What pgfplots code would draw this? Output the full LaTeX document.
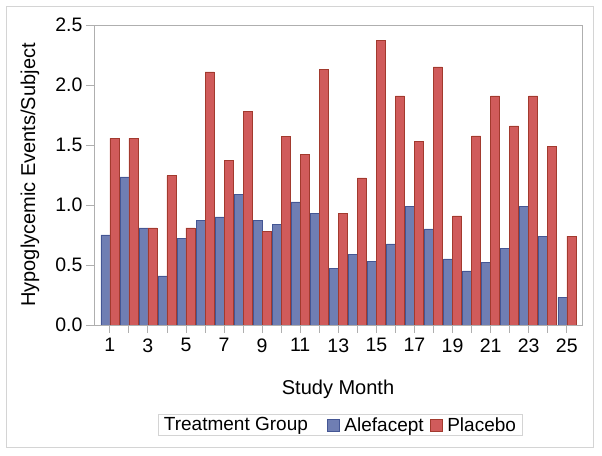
\documentclass[border=0pt]{standalone}
\usepackage{pgfplots}
\pgfplotsset{compat=1.18}
\usepackage{fontspec}
\setmainfont{Liberation Sans}
\definecolor{alef}{RGB}{111,126,179}
\definecolor{alefd}{RGB}{68,86,148}
\definecolor{plac}{RGB}{208,91,91}
\definecolor{placd}{RGB}{162,58,46}
\definecolor{axgray}{RGB}{175,175,175}
\definecolor{framegray}{RGB}{212,212,212}
\begin{document}
\begin{tikzpicture}[x=1bp,y=1bp]
\useasboundingbox (-94,-131) rectangle (508,325);
\draw[framegray, line width=1bp] (-87,-123) rectangle (499,318);
\begin{axis}[
  name=ax, at={(0,0)}, anchor=south west,
  scale only axis, width=488bp, height=300bp,
  xmin=0.17, xmax=25.8, ymin=0, ymax=2.5,
  ybar=0pt, bar width=9bp,
  xtick={1,...,25},
  xticklabels={1,,3,,5,,7,,9,,11,,13,,15,,17,,19,,21,,23,,25},
  ytick={0,0.5,1,1.5,2,2.5},
  tick pos=left, tick align=outside, major tick length=8bp,
  tick style={axgray, line width=0.8bp},
  axis line style={axgray, line width=0.9bp},
  ticklabel style={font=\fontsize{19.5bp}{22bp}\selectfont},
  xticklabel style={yshift=-2bp},
  yticklabel style={/pgf/number format/.cd, fixed, fixed zerofill, precision=1, assume math mode=true},
  xticklabel style={/pgf/number format/assume math mode=true},
  label style={font=\fontsize{20bp}{24bp}\selectfont},
  xlabel={Study Month},
  xlabel style={at={(axis description cs:0.5,-0.215)}, anchor=center},
  ylabel={Hypoglycemic Events/Subject},
  ylabel style={at={(axis description cs:-0.131,0.5)}, anchor=center},
  legend columns=3,
  legend style={at={(axis description cs:0.504,-0.333)}, anchor=center,
    draw=framegray, line width=0.8bp, font=\fontsize{19bp}{21bp}\selectfont,
    inner xsep=1bp, inner ysep=1bp},
  legend image code/.code={\draw[#1, line width=0.6bp] (0bp,-6bp) rectangle (12bp,6bp);},
]
\addlegendimage{empty legend}
\addlegendentry{\kern3bp Treatment Group\kern17bp}
\addplot[fill=alef, draw=alefd, line width=0.5bp] coordinates {
(1,0.75) (2,1.235) (3,0.81) (4,0.41) (5,0.72) (6,0.87) (7,0.90) (8,1.09) (9,0.87) (10,0.84)
(11,1.025) (12,0.93) (13,0.47) (14,0.59) (15,0.53) (16,0.675) (17,0.99) (18,0.80) (19,0.55) (20,0.45)
(21,0.52) (22,0.64) (23,0.99) (24,0.74) (25,0.23)};
\addlegendentry{\kern3bp Alefacept\kern4bp}
\addplot[fill=plac, draw=placd, line width=0.5bp] coordinates {
(1,1.555) (2,1.555) (3,0.81) (4,1.245) (5,0.81) (6,2.11) (7,1.37) (8,1.78) (9,0.78) (10,1.57)
(11,1.42) (12,2.13) (13,0.93) (14,1.225) (15,2.37) (16,1.91) (17,1.53) (18,2.15) (19,0.91) (20,1.575)
(21,1.91) (22,1.66) (23,1.91) (24,1.49) (25,0.74)};
\addlegendentry{\kern3bp Placebo\kern3bp}
\end{axis}
\end{tikzpicture}
\end{document}
